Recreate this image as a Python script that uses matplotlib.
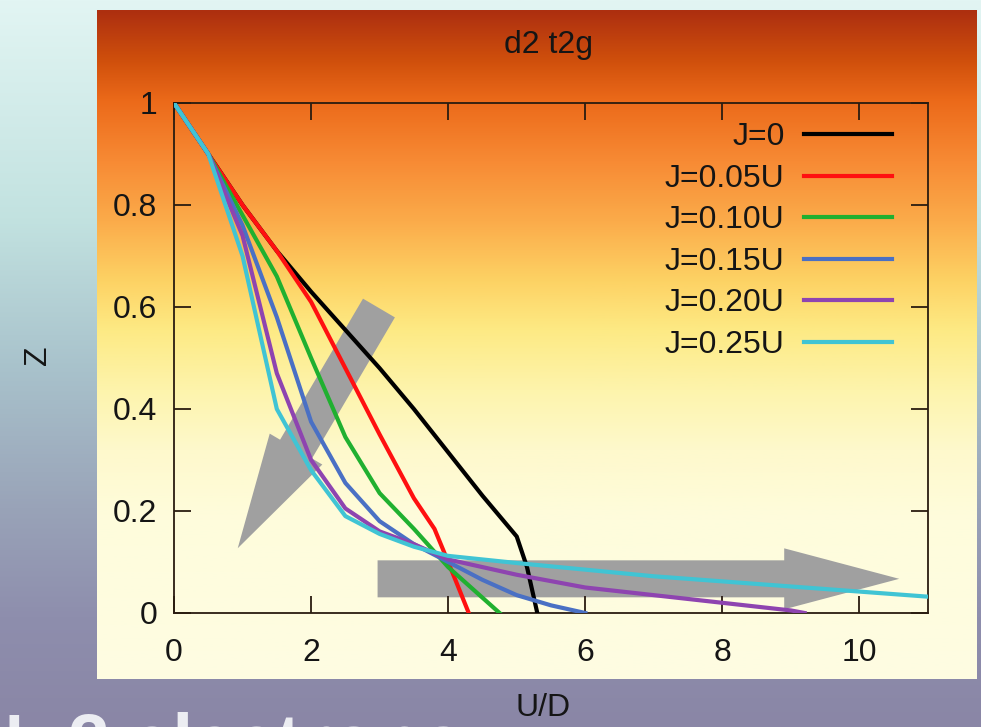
import numpy as np
import matplotlib.pyplot as plt
from matplotlib.colors import LinearSegmentedColormap
from matplotlib.patches import Polygon
from matplotlib.transforms import IdentityTransform

plt.rcParams['font.family'] = ['Liberation Sans', 'DejaVu Sans']

# Z(U/D) for the d2 t2g model
u_j000 = [0, 0.5, 1, 1.5, 2, 2.5, 3, 3.5, 4, 4.5, 5, 5.15, 5.3]
z_j000 = [1, 0.9, 0.8, 0.71, 0.63, 0.555, 0.48, 0.4, 0.315, 0.23, 0.15, 0.09, 0.0]
u_j005 = [0, 0.5, 1, 1.5, 2, 2.5, 3, 3.5, 3.8, 4, 4.3]
z_j005 = [1, 0.9, 0.8, 0.71, 0.61, 0.48, 0.35, 0.225, 0.165, 0.1, 0.0]
u_j010 = [0, 0.5, 1, 1.5, 2, 2.5, 3, 3.5, 4, 4.5, 4.75]
z_j010 = [1, 0.9, 0.78, 0.66, 0.5, 0.345, 0.235, 0.165, 0.09, 0.03, 0.0]
u_j015 = [0, 0.5, 1, 1.5, 2, 2.5, 3, 3.5, 4, 4.5, 5, 5.5, 6]
z_j015 = [1, 0.9, 0.76, 0.58, 0.375, 0.255, 0.18, 0.135, 0.1, 0.065, 0.035, 0.015, 0.0]
u_j020 = [0, 0.5, 1, 1.5, 2, 2.5, 3, 3.5, 4, 5, 6, 7, 8, 9, 9.2]
z_j020 = [1, 0.9, 0.74, 0.47, 0.3, 0.205, 0.16, 0.135, 0.105, 0.075, 0.05, 0.035, 0.02, 0.005, 0.0]
u_j025 = [0, 0.5, 1, 1.5, 2, 2.5, 3, 3.5, 4, 5, 6, 7, 8, 9, 10, 11]
z_j025 = [1, 0.9, 0.7, 0.4, 0.28, 0.19, 0.155, 0.13, 0.112, 0.098, 0.085, 0.072, 0.062, 0.052, 0.042, 0.032]

labels = ['J=0', 'J=0.05U', 'J=0.10U', 'J=0.15U', 'J=0.20U', 'J=0.25U']
colors = ['#000000', '#ff1010', '#20b030', '#4a70c4', '#8e44b0', '#40c4d4']

x_ticks = [0, 2, 4, 6, 8, 10]
y_ticks = [0, 0.2, 0.4, 0.6, 0.8, 1]
y_ticklabels = ['0', '0.2', '0.4', '0.6', '0.8', '1']

# trend arrows (tail, tip) in data units
arrow_down = ((2.99, 0.598), (0.93, 0.127))
arrow_right = ((2.97, 0.067), (10.58, 0.067))

W, H = 981, 727
fig = plt.figure(figsize=(W / 100, H / 100), dpi=100)

# slide background
bg = fig.add_axes([0, 0, 1, 1], zorder=-10)
bg_cmap = LinearSegmentedColormap.from_list('bg', [
    (0.0, '#e2f5f3'), (0.3, '#c2e2e0'), (0.5, '#a9c3cc'),
    (0.7, '#99a3b8'), (0.85, '#8e8ead'), (1.0, '#8a86a6')])
bg.imshow(np.linspace(0, 1, 256).reshape(-1, 1), cmap=bg_cmap, aspect='auto',
          extent=[0, 1, 0, 1])
bg.axis('off')

# plot panel
px0, px1, py0, py1 = 97, 977, 10, 679
panel = fig.add_axes([px0 / W, 1 - py1 / H, (px1 - px0) / W, (py1 - py0) / H], zorder=-5)
panel_cmap = LinearSegmentedColormap.from_list('panel', [
    (0.0, '#ad2f10'), (0.075, '#d0500c'), (0.135, '#ec6a1a'), (0.224, '#f78a34'),
    (0.314, '#fbab4a'), (0.404, '#fdd264'), (0.478, '#fdea84'), (0.568, '#fdf4ac'),
    (0.658, '#fef9cc'), (0.762, '#fefcdc'), (1.0, '#fefde2')])
panel.imshow(np.linspace(0, 1, 256).reshape(-1, 1), cmap=panel_cmap, aspect='auto',
             extent=[0, 1, 0, 1])
panel.axis('off')

ax0, ax1, ay0, ay1 = 174, 928, 103, 613
ax = fig.add_axes([ax0 / W, 1 - ay1 / H, (ax1 - ax0) / W, (ay1 - ay0) / H])
ax.set_facecolor('none')

series = [(u_j000, z_j000), (u_j005, z_j005), (u_j010, z_j010),
          (u_j015, z_j015), (u_j020, z_j020), (u_j025, z_j025)]
for (u, z), lab, c in zip(series, labels, colors):
    ax.plot(u, z, color=c, lw=3, label=lab, zorder=3, solid_joinstyle='round')

ax.set_xlim(0, 11)
ax.set_ylim(0, 1)
ax.set_xticks(x_ticks)
ax.set_yticks(y_ticks)
ax.set_yticklabels(y_ticklabels)
for s in ax.spines.values():
    s.set_color('#2a1c10')
    s.set_linewidth(1.3)
ax.tick_params(direction='in', length=12, width=1.3, color='#2a1c10',
               top=True, right=True, labelsize=23, labelcolor='#151515')
ax.tick_params(axis='x', pad=18)
ax.tick_params(axis='y', pad=12)

fig.canvas.draw()


def draw_arrow(tail, tip, shaft=37, head_w=61, head_l=115):
    p0 = ax.transData.transform(tail)
    p1 = ax.transData.transform(tip)
    d = p1 - p0
    d = d / np.hypot(*d)
    n = np.array([-d[1], d[0]])
    base = p1 - d * head_l
    pts = [p0 + n * shaft / 2, base + n * shaft / 2, base + n * head_w / 2, p1,
           base - n * head_w / 2, base - n * shaft / 2, p0 - n * shaft / 2]
    ax.add_patch(Polygon(pts, closed=True, transform=IdentityTransform(),
                         facecolor='#a0a0a0', edgecolor='none', zorder=1,
                         clip_on=False))


draw_arrow(*arrow_down)
draw_arrow(*arrow_right)

leg = ax.legend(loc='upper right', bbox_to_anchor=(0.952, 0.962), frameon=False,
                markerfirst=False, fontsize=23, handlelength=2.75,
                handletextpad=0.6, labelspacing=0.36, borderpad=0,
                borderaxespad=0)
for t in leg.get_texts():
    t.set_color('#151515')

fig.text(549 / W, 1 - 45 / H, 'd2 t2g', ha='center', va='center', fontsize=23,
         color='#151515')
fig.text(543 / W, 1 - 708 / H, 'U/D', ha='center', va='center', fontsize=23,
         color='#151515')
fig.text(38 / W, 1 - 355 / H, 'Z', ha='center', va='center', fontsize=23,
         rotation=90, color='#151515')
fig.text(-30 / W, 1 - 712 / H, 'N=2 electrons', ha='left', va='top', fontsize=54,
         fontweight='bold', color='#ecedf2')

fig.savefig('out.png', dpi=100)
